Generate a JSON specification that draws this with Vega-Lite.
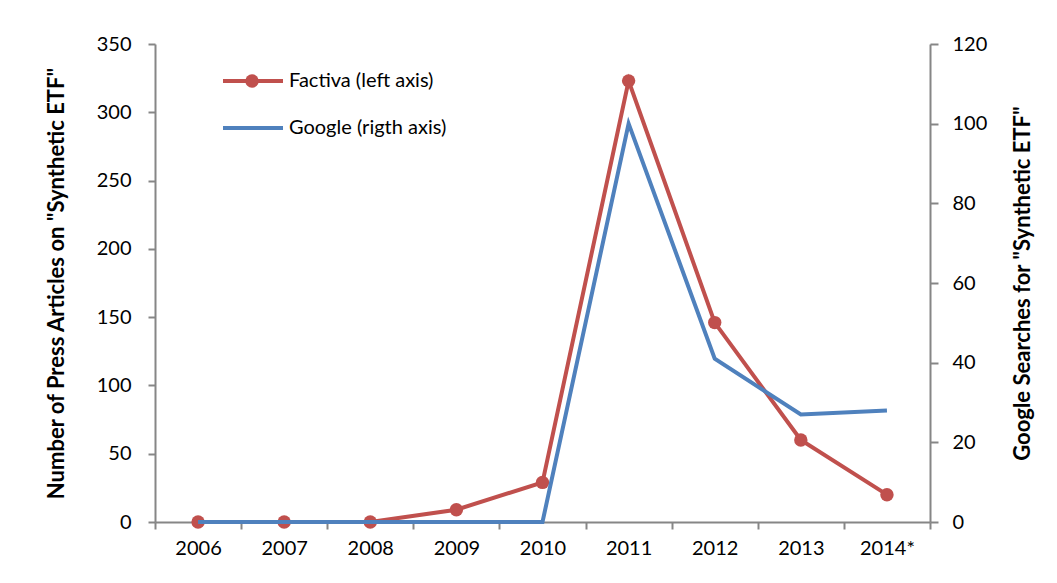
{
  "$schema": "https://vega.github.io/schema/vega-lite/v6.json",
  "width": 775,
  "height": 478,
  "autosize": "none",
  "padding": {"left": 155, "top": 44, "right": 127, "bottom": 61},
  "background": "white",
  "config": {
    "view": {"stroke": null},
    "font": "Lato",
    "axis": {
      "labelFont": "Lato",
      "labelFontSize": 20,
      "labelColor": "#000000",
      "titleFont": "Lato",
      "titleFontSize": 22,
      "titleFontWeight": "bold",
      "titleColor": "#000000",
      "domainColor": "#868686",
      "domainWidth": 2,
      "tickColor": "#868686",
      "tickWidth": 2,
      "grid": false
    },
    "legend": {
      "labelFont": "Lato",
      "labelFontSize": 20,
      "labelColor": "#000000"
    }
  },
  "data": {
    "values": [
      {"year": "2006", "series": "Factiva (left axis)", "value": 0},
      {"year": "2007", "series": "Factiva (left axis)", "value": 0},
      {"year": "2008", "series": "Factiva (left axis)", "value": 0},
      {"year": "2009", "series": "Factiva (left axis)", "value": 9},
      {"year": "2010", "series": "Factiva (left axis)", "value": 29},
      {"year": "2011", "series": "Factiva (left axis)", "value": 323},
      {"year": "2012", "series": "Factiva (left axis)", "value": 146},
      {"year": "2013", "series": "Factiva (left axis)", "value": 60},
      {"year": "2014*", "series": "Factiva (left axis)", "value": 20},
      {"year": "2006", "series": "Google (rigth axis)", "value": 0},
      {"year": "2007", "series": "Google (rigth axis)", "value": 0},
      {"year": "2008", "series": "Google (rigth axis)", "value": 0},
      {"year": "2009", "series": "Google (rigth axis)", "value": 0},
      {"year": "2010", "series": "Google (rigth axis)", "value": 0},
      {"year": "2011", "series": "Google (rigth axis)", "value": 100},
      {"year": "2012", "series": "Google (rigth axis)", "value": 41},
      {"year": "2013", "series": "Google (rigth axis)", "value": 27},
      {"year": "2014*", "series": "Google (rigth axis)", "value": 28}
    ]
  },
  "encoding": {
    "x": {
      "field": "year",
      "type": "ordinal",
      "sort": null,
      "scale": {"type": "band", "paddingInner": 0, "paddingOuter": 0},
      "axis": {
        "title": null,
        "labelAngle": 0,
        "tickBand": "extent",
        "tickSize": 7,
        "labelPadding": 9
      }
    }
  },
  "layer": [
    {
      "transform": [{"filter": "datum.series === 'Factiva (left axis)'"}],
      "encoding": {
        "y": {
          "field": "value",
          "type": "quantitative",
          "scale": {"domain": [0, 350], "nice": false},
          "axis": {
            "orient": "left",
            "values": [0, 50, 100, 150, 200, 250, 300, 350],
            "title": "Number of Press Articles on \"Synthetic ETF\"",
            "tickSize": 7,
            "labelPadding": 17,
            "titleAngle": -90,
            "titleX": -99,
            "titleY": 239,
            "titleAlign": "center",
            "titleBaseline": "middle"
          }
        }
      },
      "layer": [
        {
          "mark": {"type": "line", "strokeWidth": 4},
          "encoding": {
            "color": {
              "field": "series",
              "type": "nominal",
              "scale": {
                "domain": ["Factiva (left axis)", "Google (rigth axis)"],
                "range": ["#C0504D", "#4F81BD"]
              },
              "legend": {
                "title": null,
                "orient": "none",
                "legendX": 66,
                "legendY": 5,
                "symbolType": "stroke",
                "symbolSize": 3600,
                "symbolStrokeWidth": 4,
                "rowPadding": 5,
                "padding": 0
              }
            }
          }
        },
        {
          "mark": {"type": "point", "filled": true, "size": 180, "opacity": 1},
          "encoding": {
            "fill": {
              "field": "series",
              "type": "nominal",
              "scale": {"domain": ["Factiva (left axis)"], "range": ["#C0504D"]},
              "legend": {
                "title": null,
                "orient": "none",
                "legendX": 87,
                "legendY": 27,
                "symbolType": "circle",
                "symbolSize": 180,
                "symbolOpacity": 1,
                "labelExpr": "''",
                "padding": 0
              }
            }
          }
        }
      ]
    },
    {
      "transform": [{"filter": "datum.series === 'Google (rigth axis)'"}],
      "mark": {"type": "line", "strokeWidth": 4},
      "encoding": {
        "y": {
          "field": "value",
          "type": "quantitative",
          "scale": {"domain": [0, 120], "nice": false},
          "axis": {
            "orient": "right",
            "values": [0, 20, 40, 60, 80, 100, 120],
            "title": "Google Searches for \"Synthetic ETF\"",
            "tickSize": 8,
            "labelPadding": 14,
            "titleAngle": -90,
            "titleX": 92,
            "titleY": 239,
            "titleAlign": "center",
            "titleBaseline": "middle"
          }
        },
        "color": {"field": "series", "type": "nominal"}
      }
    }
  ],
  "resolve": {"scale": {"y": "independent"}}
}
